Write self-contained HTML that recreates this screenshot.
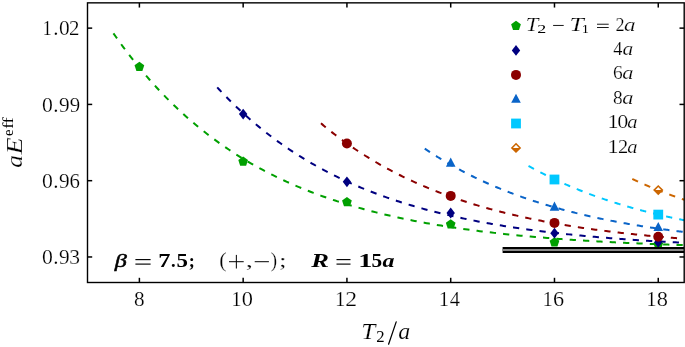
<!DOCTYPE html>
<html><head><meta charset="utf-8"><style>
html,body{margin:0;padding:0;background:#fff;}
svg{display:block;will-change:transform;}
text{font-family:"Liberation Serif",serif;fill:#000;stroke:#fff;stroke-width:0.2px;}
.s{stroke:none;}
</style></head><body>
<svg width="685" height="347" viewBox="0 0 685 347">
<defs><clipPath id="c"><rect x="87.5" y="2.85" width="596.7" height="279.65"/></clipPath></defs>
<g clip-path="url(#c)">
<path d="M113.44,33.33 L115.85,36.78 L118.26,40.18 L120.67,43.52 L123.08,46.81 L125.49,50.05 L127.90,53.24 L130.31,56.38 L132.72,59.46 L135.13,62.50 L137.54,65.49 L139.95,68.43 L142.36,71.32 L144.77,74.17 L147.18,76.97 L149.59,79.73 L152.00,82.44 L154.41,85.11 L156.82,87.74 L159.23,90.33 L161.64,92.87 L164.05,95.38 L166.46,97.84 L168.87,100.27 L171.28,102.65 L173.69,105.00 L176.10,107.31 L178.51,109.59 L180.92,111.82 L183.33,114.03 L185.74,116.19 L188.15,118.33 L190.56,120.42 L192.97,122.49 L195.38,124.52 L197.79,126.52 L200.20,128.49 L202.61,130.43 L205.02,132.33 L207.43,134.21 L209.84,136.05 L212.25,137.87 L214.66,139.65 L217.07,141.41 L219.48,143.14 L221.89,144.85 L224.29,146.52 L226.70,148.17 L229.11,149.79 L231.52,151.39 L233.93,152.96 L236.34,154.51 L238.75,156.03 L241.16,157.53 L243.57,159.00 L245.98,160.45 L248.39,161.88 L250.80,163.28 L253.21,164.66 L255.62,166.02 L258.03,167.36 L260.44,168.68 L262.85,169.98 L265.26,171.25 L267.67,172.51 L270.08,173.74 L272.49,174.96 L274.90,176.15 L277.31,177.33 L279.72,178.49 L282.13,179.63 L284.54,180.75 L286.95,181.85 L289.36,182.94 L291.77,184.01 L294.18,185.06 L296.59,186.09 L299.00,187.11 L301.41,188.11 L303.82,189.10 L306.23,190.07 L308.64,191.02 L311.05,191.96 L313.46,192.89 L315.87,193.80 L318.28,194.69 L320.69,195.57 L323.10,196.44 L325.51,197.29 L327.92,198.13 L330.33,198.96 L332.74,199.77 L335.15,200.57 L337.56,201.36 L339.97,202.14 L342.38,202.90 L344.79,203.65 L347.20,204.39 L349.61,205.11 L352.01,205.83 L354.42,206.53 L356.83,207.23 L359.24,207.91 L361.65,208.58 L364.06,209.24 L366.47,209.89 L368.88,210.53 L371.29,211.15 L373.70,211.77 L376.11,212.38 L378.52,212.98 L380.93,213.57 L383.34,214.15 L385.75,214.72 L388.16,215.28 L390.57,215.84 L392.98,216.38 L395.39,216.92 L397.80,217.44 L400.21,217.96 L402.62,218.47 L405.03,218.97 L407.44,219.47 L409.85,219.95 L412.26,220.43 L414.67,220.90 L417.08,221.37 L419.49,221.82 L421.90,222.27 L424.31,222.71 L426.72,223.15 L429.13,223.58 L431.54,224.00 L433.95,224.41 L436.36,224.82 L438.77,225.22 L441.18,225.61 L443.59,226.00 L446.00,226.38 L448.41,226.76 L450.82,227.13 L453.23,227.49 L455.64,227.85 L458.05,228.21 L460.46,228.55 L462.87,228.89 L465.28,229.23 L467.69,229.56 L470.10,229.89 L472.51,230.21 L474.92,230.52 L477.33,230.83 L479.73,231.14 L482.14,231.44 L484.55,231.73 L486.96,232.02 L489.37,232.31 L491.78,232.59 L494.19,232.87 L496.60,233.14 L499.01,233.41 L501.42,233.67 L503.83,233.93 L506.24,234.19 L508.65,234.44 L511.06,234.69 L513.47,234.93 L515.88,235.17 L518.29,235.41 L520.70,235.64 L523.11,235.87 L525.52,236.09 L527.93,236.31 L530.34,236.53 L532.75,236.75 L535.16,236.96 L537.57,237.16 L539.98,237.37 L542.39,237.57 L544.80,237.77 L547.21,237.96 L549.62,238.15 L552.03,238.34 L554.44,238.53 L556.85,238.71 L559.26,238.89 L561.67,239.07 L564.08,239.24 L566.49,239.41 L568.90,239.58 L571.31,239.74 L573.72,239.91 L576.13,240.07 L578.54,240.23 L580.95,240.38 L583.36,240.53 L585.77,240.68 L588.18,240.83 L590.59,240.98 L593.00,241.12 L595.41,241.26 L597.82,241.40 L600.23,241.54 L602.64,241.67 L605.05,241.80 L607.46,241.93 L609.86,242.06 L612.27,242.19 L614.68,242.31 L617.09,242.44 L619.50,242.56 L621.91,242.67 L624.32,242.79 L626.73,242.90 L629.14,243.02 L631.55,243.13 L633.96,243.24 L636.37,243.34 L638.78,243.45 L641.19,243.55 L643.60,243.66 L646.01,243.76 L648.42,243.86 L650.83,243.95 L653.24,244.05 L655.65,244.14 L658.06,244.24 L660.47,244.33 L662.88,244.42 L665.29,244.51 L667.70,244.59 L670.11,244.68 L672.52,244.76 L674.93,244.85 L677.34,244.93 L679.75,245.01 L682.16,245.09 L684.57,245.17 L686.98,245.24 L689.39,245.32" fill="none" stroke="#00a000" stroke-width="2" stroke-dasharray="6.25 7.12"/>
<path d="M217.22,87.34 L219.19,89.47 L221.17,91.57 L223.14,93.64 L225.12,95.68 L227.10,97.70 L229.07,99.70 L231.05,101.66 L233.02,103.60 L235.00,105.52 L236.97,107.41 L238.95,109.28 L240.92,111.12 L242.90,112.93 L244.88,114.73 L246.85,116.50 L248.83,118.25 L250.80,119.97 L252.78,121.67 L254.75,123.35 L256.73,125.01 L258.71,126.64 L260.68,128.26 L262.66,129.85 L264.63,131.42 L266.61,132.97 L268.58,134.50 L270.56,136.02 L272.53,137.51 L274.51,138.98 L276.49,140.43 L278.46,141.86 L280.44,143.28 L282.41,144.68 L284.39,146.05 L286.36,147.41 L288.34,148.76 L290.32,150.08 L292.29,151.39 L294.27,152.68 L296.24,153.95 L298.22,155.21 L300.19,156.45 L302.17,157.67 L304.14,158.88 L306.12,160.07 L308.10,161.25 L310.07,162.41 L312.05,163.56 L314.02,164.69 L316.00,165.80 L317.97,166.90 L319.95,167.99 L321.92,169.06 L323.90,170.12 L325.88,171.17 L327.85,172.20 L329.83,173.22 L331.80,174.22 L333.78,175.21 L335.75,176.19 L337.73,177.16 L339.71,178.11 L341.68,179.05 L343.66,179.98 L345.63,180.90 L347.61,181.80 L349.58,182.69 L351.56,183.57 L353.53,184.44 L355.51,185.30 L357.49,186.14 L359.46,186.98 L361.44,187.80 L363.41,188.62 L365.39,189.42 L367.36,190.21 L369.34,191.00 L371.32,191.77 L373.29,192.53 L375.27,193.28 L377.24,194.02 L379.22,194.76 L381.19,195.48 L383.17,196.19 L385.14,196.89 L387.12,197.59 L389.10,198.28 L391.07,198.95 L393.05,199.62 L395.02,200.28 L397.00,200.93 L398.97,201.57 L400.95,202.20 L402.92,202.83 L404.90,203.45 L406.88,204.06 L408.85,204.66 L410.83,205.25 L412.80,205.83 L414.78,206.41 L416.75,206.98 L418.73,207.54 L420.71,208.10 L422.68,208.65 L424.66,209.19 L426.63,209.72 L428.61,210.25 L430.58,210.77 L432.56,211.28 L434.53,211.79 L436.51,212.29 L438.49,212.78 L440.46,213.27 L442.44,213.75 L444.41,214.22 L446.39,214.69 L448.36,215.15 L450.34,215.61 L452.32,216.06 L454.29,216.50 L456.27,216.94 L458.24,217.37 L460.22,217.80 L462.19,218.22 L464.17,218.64 L466.14,219.05 L468.12,219.45 L470.10,219.85 L472.07,220.24 L474.05,220.63 L476.02,221.02 L478.00,221.40 L479.97,221.77 L481.95,222.14 L483.93,222.50 L485.90,222.86 L487.88,223.22 L489.85,223.57 L491.83,223.91 L493.80,224.25 L495.78,224.59 L497.75,224.92 L499.73,225.25 L501.71,225.57 L503.68,225.89 L505.66,226.21 L507.63,226.52 L509.61,226.83 L511.58,227.13 L513.56,227.43 L515.53,227.72 L517.51,228.01 L519.49,228.30 L521.46,228.59 L523.44,228.87 L525.41,229.14 L527.39,229.41 L529.36,229.68 L531.34,229.95 L533.32,230.21 L535.29,230.47 L537.27,230.72 L539.24,230.98 L541.22,231.23 L543.19,231.47 L545.17,231.71 L547.14,231.95 L549.12,232.19 L551.10,232.42 L553.07,232.65 L555.05,232.88 L557.02,233.10 L559.00,233.32 L560.97,233.54 L562.95,233.75 L564.93,233.97 L566.90,234.18 L568.88,234.38 L570.85,234.59 L572.83,234.79 L574.80,234.99 L576.78,235.18 L578.75,235.38 L580.73,235.57 L582.71,235.76 L584.68,235.94 L586.66,236.13 L588.63,236.31 L590.61,236.49 L592.58,236.66 L594.56,236.84 L596.53,237.01 L598.51,237.18 L600.49,237.35 L602.46,237.51 L604.44,237.67 L606.41,237.83 L608.39,237.99 L610.36,238.15 L612.34,238.31 L614.32,238.46 L616.29,238.61 L618.27,238.76 L620.24,238.90 L622.22,239.05 L624.19,239.19 L626.17,239.33 L628.14,239.47 L630.12,239.61 L632.10,239.75 L634.07,239.88 L636.05,240.01 L638.02,240.14 L640.00,240.27 L641.97,240.40 L643.95,240.52 L645.93,240.65 L647.90,240.77 L649.88,240.89 L651.85,241.01 L653.83,241.12 L655.80,241.24 L657.78,241.36 L659.75,241.47 L661.73,241.58 L663.71,241.69 L665.68,241.80 L667.66,241.90 L669.63,242.01 L671.61,242.11 L673.58,242.22 L675.56,242.32 L677.54,242.42 L679.51,242.52 L681.49,242.62 L683.46,242.71 L685.44,242.81 L687.41,242.90 L689.39,242.99" fill="none" stroke="#000080" stroke-width="2" stroke-dasharray="6.25 7.12"/>
<path d="M320.99,123.35 L322.53,124.64 L324.07,125.92 L325.62,127.19 L327.16,128.45 L328.70,129.69 L330.24,130.92 L331.78,132.14 L333.32,133.34 L334.86,134.54 L336.41,135.72 L337.95,136.89 L339.49,138.04 L341.03,139.19 L342.57,140.32 L344.11,141.44 L345.65,142.55 L347.20,143.65 L348.74,144.74 L350.28,145.81 L351.82,146.88 L353.36,147.93 L354.90,148.97 L356.44,150.01 L357.99,151.03 L359.53,152.04 L361.07,153.04 L362.61,154.03 L364.15,155.01 L365.69,155.99 L367.23,156.95 L368.78,157.90 L370.32,158.84 L371.86,159.77 L373.40,160.69 L374.94,161.61 L376.48,162.51 L378.02,163.40 L379.56,164.29 L381.11,165.17 L382.65,166.03 L384.19,166.89 L385.73,167.74 L387.27,168.58 L388.81,169.41 L390.35,170.24 L391.90,171.05 L393.44,171.86 L394.98,172.66 L396.52,173.45 L398.06,174.23 L399.60,175.01 L401.14,175.77 L402.69,176.53 L404.23,177.28 L405.77,178.03 L407.31,178.76 L408.85,179.49 L410.39,180.21 L411.93,180.92 L413.48,181.63 L415.02,182.33 L416.56,183.02 L418.10,183.71 L419.64,184.38 L421.18,185.05 L422.72,185.72 L424.27,186.37 L425.81,187.03 L427.35,187.67 L428.89,188.31 L430.43,188.94 L431.97,189.56 L433.51,190.18 L435.06,190.79 L436.60,191.40 L438.14,191.99 L439.68,192.59 L441.22,193.17 L442.76,193.75 L444.30,194.33 L445.85,194.90 L447.39,195.46 L448.93,196.02 L450.47,196.57 L452.01,197.12 L453.55,197.66 L455.09,198.19 L456.64,198.72 L458.18,199.25 L459.72,199.76 L461.26,200.28 L462.80,200.79 L464.34,201.29 L465.88,201.79 L467.43,202.28 L468.97,202.77 L470.51,203.25 L472.05,203.73 L473.59,204.20 L475.13,204.67 L476.67,205.13 L478.22,205.59 L479.76,206.04 L481.30,206.49 L482.84,206.94 L484.38,207.38 L485.92,207.81 L487.46,208.24 L489.01,208.67 L490.55,209.09 L492.09,209.51 L493.63,209.93 L495.17,210.34 L496.71,210.74 L498.25,211.14 L499.80,211.54 L501.34,211.93 L502.88,212.32 L504.42,212.71 L505.96,213.09 L507.50,213.46 L509.04,213.84 L510.58,214.21 L512.13,214.57 L513.67,214.93 L515.21,215.29 L516.75,215.65 L518.29,216.00 L519.83,216.35 L521.37,216.69 L522.92,217.03 L524.46,217.37 L526.00,217.70 L527.54,218.03 L529.08,218.36 L530.62,218.68 L532.16,219.00 L533.71,219.32 L535.25,219.63 L536.79,219.94 L538.33,220.25 L539.87,220.55 L541.41,220.85 L542.95,221.15 L544.50,221.45 L546.04,221.74 L547.58,222.03 L549.12,222.31 L550.66,222.59 L552.20,222.87 L553.74,223.15 L555.29,223.43 L556.83,223.70 L558.37,223.97 L559.91,224.23 L561.45,224.49 L562.99,224.76 L564.53,225.01 L566.08,225.27 L567.62,225.52 L569.16,225.77 L570.70,226.02 L572.24,226.26 L573.78,226.51 L575.32,226.75 L576.87,226.98 L578.41,227.22 L579.95,227.45 L581.49,227.68 L583.03,227.91 L584.57,228.14 L586.11,228.36 L587.66,228.58 L589.20,228.80 L590.74,229.01 L592.28,229.23 L593.82,229.44 L595.36,229.65 L596.90,229.86 L598.45,230.06 L599.99,230.27 L601.53,230.47 L603.07,230.67 L604.61,230.87 L606.15,231.06 L607.69,231.26 L609.24,231.45 L610.78,231.64 L612.32,231.82 L613.86,232.01 L615.40,232.19 L616.94,232.37 L618.48,232.55 L620.03,232.73 L621.57,232.91 L623.11,233.08 L624.65,233.26 L626.19,233.43 L627.73,233.60 L629.27,233.76 L630.82,233.93 L632.36,234.09 L633.90,234.26 L635.44,234.42 L636.98,234.58 L638.52,234.73 L640.06,234.89 L641.60,235.04 L643.15,235.20 L644.69,235.35 L646.23,235.50 L647.77,235.64 L649.31,235.79 L650.85,235.94 L652.39,236.08 L653.94,236.22 L655.48,236.36 L657.02,236.50 L658.56,236.64 L660.10,236.78 L661.64,236.91 L663.18,237.04 L664.73,237.18 L666.27,237.31 L667.81,237.44 L669.35,237.56 L670.89,237.69 L672.43,237.82 L673.97,237.94 L675.52,238.06 L677.06,238.19 L678.60,238.31 L680.14,238.43 L681.68,238.54 L683.22,238.66 L684.76,238.78 L686.31,238.89 L687.85,239.00 L689.39,239.12" fill="none" stroke="#8b0000" stroke-width="2" stroke-dasharray="6.25 7.12"/>
<path d="M424.77,148.67 L425.87,149.42 L426.98,150.16 L428.09,150.89 L429.19,151.62 L430.30,152.34 L431.41,153.06 L432.52,153.77 L433.62,154.48 L434.73,155.18 L435.84,155.88 L436.94,156.57 L438.05,157.26 L439.16,157.94 L440.27,158.62 L441.37,159.29 L442.48,159.96 L443.59,160.62 L444.70,161.28 L445.80,161.93 L446.91,162.58 L448.02,163.22 L449.12,163.86 L450.23,164.49 L451.34,165.12 L452.45,165.74 L453.55,166.36 L454.66,166.98 L455.77,167.59 L456.87,168.20 L457.98,168.80 L459.09,169.39 L460.20,169.99 L461.30,170.58 L462.41,171.16 L463.52,171.74 L464.62,172.31 L465.73,172.89 L466.84,173.45 L467.95,174.02 L469.05,174.57 L470.16,175.13 L471.27,175.68 L472.38,176.23 L473.48,176.77 L474.59,177.31 L475.70,177.84 L476.80,178.37 L477.91,178.90 L479.02,179.42 L480.13,179.94 L481.23,180.46 L482.34,180.97 L483.45,181.47 L484.55,181.98 L485.66,182.48 L486.77,182.98 L487.88,183.47 L488.98,183.96 L490.09,184.44 L491.20,184.92 L492.31,185.40 L493.41,185.88 L494.52,186.35 L495.63,186.82 L496.73,187.28 L497.84,187.74 L498.95,188.20 L500.06,188.66 L501.16,189.11 L502.27,189.55 L503.38,190.00 L504.48,190.44 L505.59,190.88 L506.70,191.31 L507.81,191.74 L508.91,192.17 L510.02,192.60 L511.13,193.02 L512.23,193.44 L513.34,193.85 L514.45,194.27 L515.56,194.68 L516.66,195.08 L517.77,195.49 L518.88,195.89 L519.99,196.29 L521.09,196.68 L522.20,197.07 L523.31,197.46 L524.41,197.85 L525.52,198.23 L526.63,198.61 L527.74,198.99 L528.84,199.37 L529.95,199.74 L531.06,200.11 L532.16,200.47 L533.27,200.84 L534.38,201.20 L535.49,201.56 L536.59,201.91 L537.70,202.27 L538.81,202.62 L539.92,202.97 L541.02,203.31 L542.13,203.66 L543.24,204.00 L544.34,204.33 L545.45,204.67 L546.56,205.00 L547.67,205.33 L548.77,205.66 L549.88,205.99 L550.99,206.31 L552.09,206.63 L553.20,206.95 L554.31,207.27 L555.42,207.58 L556.52,207.89 L557.63,208.20 L558.74,208.51 L559.84,208.82 L560.95,209.12 L562.06,209.42 L563.17,209.72 L564.27,210.01 L565.38,210.31 L566.49,210.60 L567.60,210.89 L568.70,211.18 L569.81,211.46 L570.92,211.75 L572.02,212.03 L573.13,212.31 L574.24,212.58 L575.35,212.86 L576.45,213.13 L577.56,213.40 L578.67,213.67 L579.77,213.94 L580.88,214.20 L581.99,214.47 L583.10,214.73 L584.20,214.99 L585.31,215.24 L586.42,215.50 L587.53,215.75 L588.63,216.00 L589.74,216.25 L590.85,216.50 L591.95,216.75 L593.06,216.99 L594.17,217.24 L595.28,217.48 L596.38,217.72 L597.49,217.95 L598.60,218.19 L599.70,218.42 L600.81,218.65 L601.92,218.88 L603.03,219.11 L604.13,219.34 L605.24,219.57 L606.35,219.79 L607.46,220.01 L608.56,220.23 L609.67,220.45 L610.78,220.67 L611.88,220.88 L612.99,221.10 L614.10,221.31 L615.21,221.52 L616.31,221.73 L617.42,221.94 L618.53,222.14 L619.63,222.35 L620.74,222.55 L621.85,222.75 L622.96,222.95 L624.06,223.15 L625.17,223.35 L626.28,223.55 L627.38,223.74 L628.49,223.93 L629.60,224.12 L630.71,224.31 L631.81,224.50 L632.92,224.69 L634.03,224.88 L635.14,225.06 L636.24,225.24 L637.35,225.43 L638.46,225.61 L639.56,225.79 L640.67,225.96 L641.78,226.14 L642.89,226.32 L643.99,226.49 L645.10,226.66 L646.21,226.83 L647.31,227.00 L648.42,227.17 L649.53,227.34 L650.64,227.51 L651.74,227.67 L652.85,227.84 L653.96,228.00 L655.07,228.16 L656.17,228.32 L657.28,228.48 L658.39,228.64 L659.49,228.80 L660.60,228.95 L661.71,229.11 L662.82,229.26 L663.92,229.41 L665.03,229.56 L666.14,229.71 L667.24,229.86 L668.35,230.01 L669.46,230.16 L670.57,230.30 L671.67,230.45 L672.78,230.59 L673.89,230.73 L674.99,230.88 L676.10,231.02 L677.21,231.16 L678.32,231.29 L679.42,231.43 L680.53,231.57 L681.64,231.70 L682.75,231.84 L683.85,231.97 L684.96,232.10 L686.07,232.23 L687.17,232.37 L688.28,232.49 L689.39,232.62" fill="none" stroke="#0a64c8" stroke-width="2" stroke-dasharray="6.25 7.12"/>
<path d="M528.54,165.93 L529.21,166.30 L529.89,166.68 L530.56,167.05 L531.23,167.42 L531.90,167.79 L532.58,168.16 L533.25,168.52 L533.92,168.89 L534.60,169.25 L535.27,169.61 L535.94,169.97 L536.62,170.33 L537.29,170.69 L537.96,171.04 L538.63,171.40 L539.31,171.75 L539.98,172.10 L540.65,172.45 L541.33,172.79 L542.00,173.14 L542.67,173.48 L543.35,173.83 L544.02,174.17 L544.69,174.51 L545.36,174.85 L546.04,175.18 L546.71,175.52 L547.38,175.85 L548.06,176.18 L548.73,176.51 L549.40,176.84 L550.08,177.17 L550.75,177.49 L551.42,177.82 L552.09,178.14 L552.77,178.46 L553.44,178.78 L554.11,179.10 L554.79,179.42 L555.46,179.74 L556.13,180.05 L556.81,180.36 L557.48,180.68 L558.15,180.99 L558.82,181.29 L559.50,181.60 L560.17,181.91 L560.84,182.21 L561.52,182.52 L562.19,182.82 L562.86,183.12 L563.54,183.42 L564.21,183.72 L564.88,184.01 L565.55,184.31 L566.23,184.60 L566.90,184.90 L567.57,185.19 L568.25,185.48 L568.92,185.77 L569.59,186.05 L570.27,186.34 L570.94,186.62 L571.61,186.91 L572.28,187.19 L572.96,187.47 L573.63,187.75 L574.30,188.03 L574.98,188.31 L575.65,188.58 L576.32,188.86 L577.00,189.13 L577.67,189.40 L578.34,189.68 L579.01,189.95 L579.69,190.21 L580.36,190.48 L581.03,190.75 L581.71,191.01 L582.38,191.28 L583.05,191.54 L583.73,191.80 L584.40,192.06 L585.07,192.32 L585.75,192.58 L586.42,192.84 L587.09,193.09 L587.76,193.35 L588.44,193.60 L589.11,193.85 L589.78,194.10 L590.46,194.35 L591.13,194.60 L591.80,194.85 L592.48,195.10 L593.15,195.34 L593.82,195.59 L594.49,195.83 L595.17,196.07 L595.84,196.32 L596.51,196.56 L597.19,196.80 L597.86,197.03 L598.53,197.27 L599.21,197.51 L599.88,197.74 L600.55,197.98 L601.22,198.21 L601.90,198.44 L602.57,198.67 L603.24,198.90 L603.92,199.13 L604.59,199.36 L605.26,199.58 L605.94,199.81 L606.61,200.03 L607.28,200.26 L607.95,200.48 L608.63,200.70 L609.30,200.92 L609.97,201.14 L610.65,201.36 L611.32,201.58 L611.99,201.79 L612.67,202.01 L613.34,202.23 L614.01,202.44 L614.68,202.65 L615.36,202.86 L616.03,203.07 L616.70,203.28 L617.38,203.49 L618.05,203.70 L618.72,203.91 L619.40,204.12 L620.07,204.32 L620.74,204.52 L621.41,204.73 L622.09,204.93 L622.76,205.13 L623.43,205.33 L624.11,205.53 L624.78,205.73 L625.45,205.93 L626.13,206.13 L626.80,206.32 L627.47,206.52 L628.14,206.71 L628.82,206.91 L629.49,207.10 L630.16,207.29 L630.84,207.48 L631.51,207.67 L632.18,207.86 L632.86,208.05 L633.53,208.24 L634.20,208.43 L634.87,208.61 L635.55,208.80 L636.22,208.98 L636.89,209.17 L637.57,209.35 L638.24,209.53 L638.91,209.71 L639.59,209.89 L640.26,210.07 L640.93,210.25 L641.60,210.43 L642.28,210.60 L642.95,210.78 L643.62,210.96 L644.30,211.13 L644.97,211.30 L645.64,211.48 L646.32,211.65 L646.99,211.82 L647.66,211.99 L648.34,212.16 L649.01,212.33 L649.68,212.50 L650.35,212.67 L651.03,212.84 L651.70,213.00 L652.37,213.17 L653.05,213.33 L653.72,213.50 L654.39,213.66 L655.07,213.82 L655.74,213.98 L656.41,214.15 L657.08,214.31 L657.76,214.47 L658.43,214.62 L659.10,214.78 L659.78,214.94 L660.45,215.10 L661.12,215.25 L661.80,215.41 L662.47,215.56 L663.14,215.72 L663.81,215.87 L664.49,216.02 L665.16,216.18 L665.83,216.33 L666.51,216.48 L667.18,216.63 L667.85,216.78 L668.53,216.93 L669.20,217.07 L669.87,217.22 L670.54,217.37 L671.22,217.51 L671.89,217.66 L672.56,217.80 L673.24,217.95 L673.91,218.09 L674.58,218.23 L675.26,218.38 L675.93,218.52 L676.60,218.66 L677.27,218.80 L677.95,218.94 L678.62,219.08 L679.29,219.22 L679.97,219.35 L680.64,219.49 L681.31,219.63 L681.99,219.76 L682.66,219.90 L683.33,220.03 L684.00,220.17 L684.68,220.30 L685.35,220.43 L686.02,220.56 L686.70,220.70 L687.37,220.83 L688.04,220.96 L688.72,221.09 L689.39,221.22" fill="none" stroke="#00c8ff" stroke-width="2" stroke-dasharray="6.25 7.12"/>
<path d="M632.31,178.95 L632.55,179.07 L632.79,179.18 L633.03,179.29 L633.27,179.40 L633.51,179.52 L633.75,179.63 L633.98,179.74 L634.22,179.85 L634.46,179.96 L634.70,180.08 L634.94,180.19 L635.18,180.30 L635.42,180.41 L635.66,180.52 L635.90,180.63 L636.13,180.74 L636.37,180.85 L636.61,180.96 L636.85,181.07 L637.09,181.18 L637.33,181.29 L637.57,181.40 L637.81,181.51 L638.04,181.62 L638.28,181.73 L638.52,181.83 L638.76,181.94 L639.00,182.05 L639.24,182.16 L639.48,182.27 L639.72,182.37 L639.95,182.48 L640.19,182.59 L640.43,182.70 L640.67,182.80 L640.91,182.91 L641.15,183.02 L641.39,183.12 L641.63,183.23 L641.87,183.34 L642.10,183.44 L642.34,183.55 L642.58,183.65 L642.82,183.76 L643.06,183.86 L643.30,183.97 L643.54,184.08 L643.78,184.18 L644.01,184.28 L644.25,184.39 L644.49,184.49 L644.73,184.60 L644.97,184.70 L645.21,184.81 L645.45,184.91 L645.69,185.01 L645.93,185.12 L646.16,185.22 L646.40,185.32 L646.64,185.43 L646.88,185.53 L647.12,185.63 L647.36,185.73 L647.60,185.84 L647.84,185.94 L648.07,186.04 L648.31,186.14 L648.55,186.24 L648.79,186.34 L649.03,186.45 L649.27,186.55 L649.51,186.65 L649.75,186.75 L649.99,186.85 L650.22,186.95 L650.46,187.05 L650.70,187.15 L650.94,187.25 L651.18,187.35 L651.42,187.45 L651.66,187.55 L651.90,187.65 L652.13,187.75 L652.37,187.85 L652.61,187.94 L652.85,188.04 L653.09,188.14 L653.33,188.24 L653.57,188.34 L653.81,188.44 L654.04,188.53 L654.28,188.63 L654.52,188.73 L654.76,188.83 L655.00,188.92 L655.24,189.02 L655.48,189.12 L655.72,189.22 L655.96,189.31 L656.19,189.41 L656.43,189.50 L656.67,189.60 L656.91,189.70 L657.15,189.79 L657.39,189.89 L657.63,189.98 L657.87,190.08 L658.10,190.18 L658.34,190.27 L658.58,190.37 L658.82,190.46 L659.06,190.55 L659.30,190.65 L659.54,190.74 L659.78,190.84 L660.02,190.93 L660.25,191.03 L660.49,191.12 L660.73,191.21 L660.97,191.31 L661.21,191.40 L661.45,191.49 L661.69,191.59 L661.93,191.68 L662.16,191.77 L662.40,191.86 L662.64,191.96 L662.88,192.05 L663.12,192.14 L663.36,192.23 L663.60,192.33 L663.84,192.42 L664.07,192.51 L664.31,192.60 L664.55,192.69 L664.79,192.78 L665.03,192.87 L665.27,192.96 L665.51,193.06 L665.75,193.15 L665.99,193.24 L666.22,193.33 L666.46,193.42 L666.70,193.51 L666.94,193.60 L667.18,193.69 L667.42,193.78 L667.66,193.87 L667.90,193.95 L668.13,194.04 L668.37,194.13 L668.61,194.22 L668.85,194.31 L669.09,194.40 L669.33,194.49 L669.57,194.58 L669.81,194.66 L670.05,194.75 L670.28,194.84 L670.52,194.93 L670.76,195.01 L671.00,195.10 L671.24,195.19 L671.48,195.28 L671.72,195.36 L671.96,195.45 L672.19,195.54 L672.43,195.62 L672.67,195.71 L672.91,195.80 L673.15,195.88 L673.39,195.97 L673.63,196.06 L673.87,196.14 L674.10,196.23 L674.34,196.31 L674.58,196.40 L674.82,196.48 L675.06,196.57 L675.30,196.65 L675.54,196.74 L675.78,196.82 L676.02,196.91 L676.25,196.99 L676.49,197.08 L676.73,197.16 L676.97,197.24 L677.21,197.33 L677.45,197.41 L677.69,197.50 L677.93,197.58 L678.16,197.66 L678.40,197.75 L678.64,197.83 L678.88,197.91 L679.12,197.99 L679.36,198.08 L679.60,198.16 L679.84,198.24 L680.08,198.32 L680.31,198.41 L680.55,198.49 L680.79,198.57 L681.03,198.65 L681.27,198.73 L681.51,198.82 L681.75,198.90 L681.99,198.98 L682.22,199.06 L682.46,199.14 L682.70,199.22 L682.94,199.30 L683.18,199.38 L683.42,199.46 L683.66,199.54 L683.90,199.62 L684.13,199.70 L684.37,199.78 L684.61,199.86 L684.85,199.94 L685.09,200.02 L685.33,200.10 L685.57,200.18 L685.81,200.26 L686.05,200.34 L686.28,200.42 L686.52,200.50 L686.76,200.58 L687.00,200.66 L687.24,200.73 L687.48,200.81 L687.72,200.89 L687.96,200.97 L688.19,201.05 L688.43,201.12 L688.67,201.20 L688.91,201.28 L689.15,201.36 L689.39,201.43" fill="none" stroke="#cc6600" stroke-width="2" stroke-dasharray="6.25 7.12"/>
<polygon points="139.39,61.80 134.54,65.32 136.39,71.03 142.38,71.03 144.24,65.32" fill="#00a000"/>
<polygon points="243.16,156.50 238.31,160.02 240.16,165.73 246.16,165.73 248.01,160.02" fill="#00a000"/>
<polygon points="346.93,196.90 342.08,200.42 343.94,206.13 349.93,206.13 351.79,200.42" fill="#00a000"/>
<polygon points="450.71,219.30 445.86,222.82 447.71,228.53 453.71,228.53 455.56,222.82" fill="#00a000"/>
<polygon points="554.48,237.30 549.63,240.82 551.48,246.53 557.48,246.53 559.33,240.82" fill="#00a000"/>
<polygon points="658.26,239.40 653.41,242.92 655.26,248.63 661.25,248.63 663.11,242.92" fill="#00a000"/>
<polygon points="243.16,108.70 247.36,114.10 243.16,119.50 238.96,114.10" fill="#000080"/>
<polygon points="346.93,176.40 351.13,181.80 346.93,187.20 342.73,181.80" fill="#000080"/>
<polygon points="450.71,207.60 454.91,213.00 450.71,218.40 446.51,213.00" fill="#000080"/>
<polygon points="554.48,227.80 558.68,233.20 554.48,238.60 550.28,233.20" fill="#000080"/>
<polygon points="658.26,236.90 662.46,242.30 658.26,247.70 654.06,242.30" fill="#000080"/>
<circle cx="346.93" cy="143.50" r="5" fill="#8b0000"/>
<circle cx="450.71" cy="195.90" r="5" fill="#8b0000"/>
<circle cx="554.48" cy="222.90" r="5" fill="#8b0000"/>
<circle cx="658.26" cy="236.70" r="5" fill="#8b0000"/>
<polygon points="450.71,157.60 455.51,166.72 445.91,166.72" fill="#0a64c8"/>
<polygon points="554.48,201.60 559.28,210.72 549.68,210.72" fill="#0a64c8"/>
<polygon points="658.26,221.90 663.06,231.02 653.46,231.02" fill="#0a64c8"/>
<rect x="549.58" y="174.60" width="9.80" height="9.80" fill="#00c8ff"/>
<rect x="653.36" y="209.70" width="9.80" height="9.80" fill="#00c8ff"/>
<polygon points="658.26,186.00 662.36,190.10 658.26,194.20 654.16,190.10" fill="#fff" stroke="#cc6600" stroke-width="1.55"/><polygon points="654.16,190.10 662.36,190.10 658.26,194.20" fill="#cc6600"/>
<rect x="502.60" y="247" width="181.60" height="6" fill="#000"/>
<rect x="502.60" y="249" width="181.60" height="2" fill="#8a8a8a"/>
</g>
<rect x="87.50" y="2.85" width="596.70" height="279.65" fill="none" stroke="#000" stroke-width="1.4"/>
<line x1="139.39" y1="282.50" x2="139.39" y2="277.80" stroke="#000" stroke-width="1.5"/>
<line x1="139.39" y1="2.85" x2="139.39" y2="7.55" stroke="#000" stroke-width="1.5"/>
<line x1="243.16" y1="282.50" x2="243.16" y2="277.80" stroke="#000" stroke-width="1.5"/>
<line x1="243.16" y1="2.85" x2="243.16" y2="7.55" stroke="#000" stroke-width="1.5"/>
<line x1="346.93" y1="282.50" x2="346.93" y2="277.80" stroke="#000" stroke-width="1.5"/>
<line x1="346.93" y1="2.85" x2="346.93" y2="7.55" stroke="#000" stroke-width="1.5"/>
<line x1="450.71" y1="282.50" x2="450.71" y2="277.80" stroke="#000" stroke-width="1.5"/>
<line x1="450.71" y1="2.85" x2="450.71" y2="7.55" stroke="#000" stroke-width="1.5"/>
<line x1="554.48" y1="282.50" x2="554.48" y2="277.80" stroke="#000" stroke-width="1.5"/>
<line x1="554.48" y1="2.85" x2="554.48" y2="7.55" stroke="#000" stroke-width="1.5"/>
<line x1="658.26" y1="282.50" x2="658.26" y2="277.80" stroke="#000" stroke-width="1.5"/>
<line x1="658.26" y1="2.85" x2="658.26" y2="7.55" stroke="#000" stroke-width="1.5"/>
<line x1="87.50" y1="28.13" x2="92.20" y2="28.13" stroke="#000" stroke-width="1.5"/>
<line x1="684.20" y1="28.13" x2="679.50" y2="28.13" stroke="#000" stroke-width="1.5"/>
<line x1="87.50" y1="104.41" x2="92.20" y2="104.41" stroke="#000" stroke-width="1.5"/>
<line x1="684.20" y1="104.41" x2="679.50" y2="104.41" stroke="#000" stroke-width="1.5"/>
<line x1="87.50" y1="180.69" x2="92.20" y2="180.69" stroke="#000" stroke-width="1.5"/>
<line x1="684.20" y1="180.69" x2="679.50" y2="180.69" stroke="#000" stroke-width="1.5"/>
<line x1="87.50" y1="256.97" x2="92.20" y2="256.97" stroke="#000" stroke-width="1.5"/>
<line x1="684.20" y1="256.97" x2="679.50" y2="256.97" stroke="#000" stroke-width="1.5"/>
<text transform="translate(42.45,35.23) scale(0.915,1.000)" font-size="20.50">1</text>
<text transform="translate(53.31,35.23) scale(1.032,1.000)" font-size="20.50">.</text>
<text transform="translate(58.88,35.23) scale(1.047,1.000)" font-size="20.50">0</text>
<text transform="translate(69.08,35.23) scale(1.022,1.000)" font-size="20.50">2</text>
<text transform="translate(41.97,111.51) scale(1.059,1.000)" font-size="20.50">0</text>
<text transform="translate(53.31,111.51) scale(1.032,1.000)" font-size="20.50">.</text>
<text transform="translate(59.01,111.51) scale(1.040,1.000)" font-size="20.50">9</text>
<text transform="translate(69.63,111.51) scale(1.017,1.000)" font-size="20.50">9</text>
<text transform="translate(41.97,187.79) scale(1.059,1.000)" font-size="20.50">0</text>
<text transform="translate(53.31,187.79) scale(1.032,1.000)" font-size="20.50">.</text>
<text transform="translate(59.01,187.79) scale(1.040,1.000)" font-size="20.50">9</text>
<text transform="translate(69.40,187.79) scale(1.016,1.000)" font-size="20.50">6</text>
<text transform="translate(41.97,264.07) scale(1.059,1.000)" font-size="20.50">0</text>
<text transform="translate(53.31,264.07) scale(1.032,1.000)" font-size="20.50">.</text>
<text transform="translate(59.01,264.07) scale(1.040,1.000)" font-size="20.50">9</text>
<text transform="translate(69.27,264.07) scale(1.051,1.000)" font-size="20.50">3</text>
<text transform="translate(133.88,305.80) scale(1.036,1.000)" font-size="20.50">8</text>
<text transform="translate(231.24,305.80) scale(1.011,1.000)" font-size="20.50">1</text>
<text transform="translate(241.71,305.80) scale(1.093,1.000)" font-size="20.50">0</text>
<text transform="translate(335.01,305.80) scale(1.011,1.000)" font-size="20.50">1</text>
<text transform="translate(345.29,305.80) scale(1.156,1.000)" font-size="20.50">2</text>
<text transform="translate(438.79,305.80) scale(1.011,1.000)" font-size="20.50">1</text>
<text transform="translate(449.71,305.80) scale(0.997,1.000)" font-size="20.50">4</text>
<text transform="translate(542.56,305.80) scale(1.011,1.000)" font-size="20.50">1</text>
<text transform="translate(552.93,305.80) scale(1.085,1.000)" font-size="20.50">6</text>
<text transform="translate(646.33,305.80) scale(1.011,1.000)" font-size="20.50">1</text>
<text transform="translate(656.80,305.80) scale(1.093,1.000)" font-size="20.50">8</text>
<polygon points="516.00,20.70 511.15,24.22 513.00,29.93 519.00,29.93 520.85,24.22" fill="#00a000"/>
<polygon points="516.00,45.00 520.20,50.40 516.00,55.80 511.80,50.40" fill="#000080"/>
<circle cx="516.00" cy="74.90" r="5" fill="#8b0000"/>
<polygon points="516.00,93.70 520.80,102.82 511.20,102.82" fill="#0a64c8"/>
<rect x="511.10" y="118.60" width="9.80" height="9.80" fill="#00c8ff"/>
<polygon points="516.00,143.80 520.10,147.90 516.00,152.00 511.90,147.90" fill="#fff" stroke="#cc6600" stroke-width="1.55"/><polygon points="511.90,147.90 520.10,147.90 516.00,152.00" fill="#cc6600"/>
<text transform="translate(525.71,30.50) scale(1.263,1.000)" font-size="18.00" font-style="italic">T</text>
<text transform="translate(537.31,33.00) scale(1.403,1.000)" font-size="12.80" class="s">2</text>
<text transform="translate(569.52,30.50) scale(1.425,1.000)" font-size="18.00" font-style="italic">T</text>
<text transform="translate(581.63,33.00) scale(1.132,1.000)" font-size="12.80" class="s">1</text>
<text transform="translate(615.60,30.50) scale(1.012,1.000)" font-size="18.00">2</text>
<text transform="translate(624.11,30.50) scale(1.284,1.000)" font-size="18.00" font-style="italic">a</text>
<rect x="553.10" y="24.95" width="10.60" height="0.90" fill="#000"/><rect x="597.00" y="23.75" width="11.70" height="0.90" fill="#000"/><rect x="597.00" y="27.05" width="11.70" height="0.90" fill="#000"/>
<text transform="translate(613.14,54.90) scale(1.016,1.000)" font-size="18.00">4</text>
<text transform="translate(622.56,54.90) scale(1.194,1.000)" font-size="18.00" font-style="italic">a</text>
<text transform="translate(612.97,79.30) scale(1.079,1.000)" font-size="18.00">6</text>
<text transform="translate(622.13,79.30) scale(1.246,1.000)" font-size="18.00" font-style="italic">a</text>
<text transform="translate(613.06,103.70) scale(1.075,1.000)" font-size="18.00">8</text>
<text transform="translate(622.13,103.70) scale(1.246,1.000)" font-size="18.00" font-style="italic">a</text>
<text transform="translate(607.45,128.10) scale(1.231,1.000)" font-size="18.00">1</text>
<text transform="translate(617.26,128.10) scale(1.232,1.000)" font-size="18.00">0</text>
<text transform="translate(627.29,128.10) scale(1.143,1.000)" font-size="18.00" font-style="italic">a</text>
<text transform="translate(607.45,152.50) scale(1.231,1.000)" font-size="18.00">1</text>
<text transform="translate(617.90,152.50) scale(1.136,1.000)" font-size="18.00">2</text>
<text transform="translate(627.29,152.50) scale(1.143,1.000)" font-size="18.00" font-style="italic">a</text>
<text transform="translate(114.69,266.70) scale(1.244,1.000)" font-size="19.60" font-style="italic" style="stroke:#000;stroke-width:0.5px">β</text>
<text transform="translate(158.31,266.70) scale(1.244,1.000)" font-size="19.60" font-weight="bold" class="s">7</text>
<text transform="translate(170.89,266.70) scale(0.944,1.000)" font-size="19.60" font-weight="bold" class="s">.</text>
<text transform="translate(176.48,266.70) scale(1.169,1.000)" font-size="19.60" font-weight="bold" class="s">5</text>
<text transform="translate(188.76,266.70) scale(0.922,1.000)" font-size="19.60" font-weight="bold" class="s">;</text>
<text transform="translate(219.32,266.87) scale(1.132,1.108)" font-size="19.60">(</text>
<text transform="translate(245.70,266.70) scale(1.473,1.000)" font-size="19.60">,</text>
<text transform="translate(270.79,266.87) scale(0.973,1.108)" font-size="19.60">)</text>
<text transform="translate(279.08,266.70) scale(1.400,1.000)" font-size="19.60">;</text>
<text transform="translate(311.24,266.70) scale(1.352,1.000)" font-size="19.60" font-style="italic" font-weight="bold" class="s">R</text>
<text transform="translate(358.24,266.70) scale(1.441,1.000)" font-size="19.60" font-weight="bold" class="s">1</text>
<text transform="translate(371.45,266.70) scale(1.085,1.000)" font-size="19.60" font-weight="bold" class="s">5</text>
<text transform="translate(382.42,266.70) scale(1.220,1.000)" font-size="19.60" font-style="italic" font-weight="bold" class="s">a</text>
<rect x="135.40" y="259.03" width="15.20" height="1.15" fill="#000"/><rect x="135.40" y="263.53" width="15.20" height="1.15" fill="#000"/><rect x="336.50" y="259.03" width="14.00" height="1.15" fill="#000"/><rect x="336.50" y="263.53" width="14.00" height="1.15" fill="#000"/>
<rect x="229.00" y="261.20" width="14.70" height="1.00" fill="#000"/><rect x="235.85" y="254.90" width="1.00" height="13.60" fill="#000"/><rect x="254.70" y="261.20" width="14.20" height="1.00" fill="#000"/>
<text transform="translate(361.15,339.10) scale(1.076,1.000)" font-size="23.50" font-style="italic">T</text>
<text transform="translate(376.17,342.40) scale(1.013,1.000)" font-size="16.50" class="s">2</text>
<text transform="translate(398.28,339.10) scale(1.023,1.000)" font-size="23.50" font-style="italic">a</text>
<line x1="396.2" y1="321.9" x2="388.6" y2="344.2" stroke="#000" stroke-width="1.25" stroke-linecap="round"/>
<text transform="translate(22.20,161.40) rotate(-90) translate(-6.26,0) scale(1.082,1)" font-size="23.50" font-style="italic">a</text>
<text transform="translate(22.20,146.30) rotate(-90) translate(-8.17,0) scale(1.193,1)" font-size="23.50" font-style="italic">E</text>
<text transform="translate(13.30,132.65) rotate(-90) translate(-3.33,0) scale(0.959,1)" font-size="15.50" class="s">e</text>
<text transform="translate(13.30,125.30) rotate(-90) translate(-3.37,0) scale(1.195,1)" font-size="15.50" class="s">f</text>
<text transform="translate(13.30,120.20) rotate(-90) translate(-3.37,0) scale(1.195,1)" font-size="15.50" class="s">f</text>
</svg>
</body></html>
